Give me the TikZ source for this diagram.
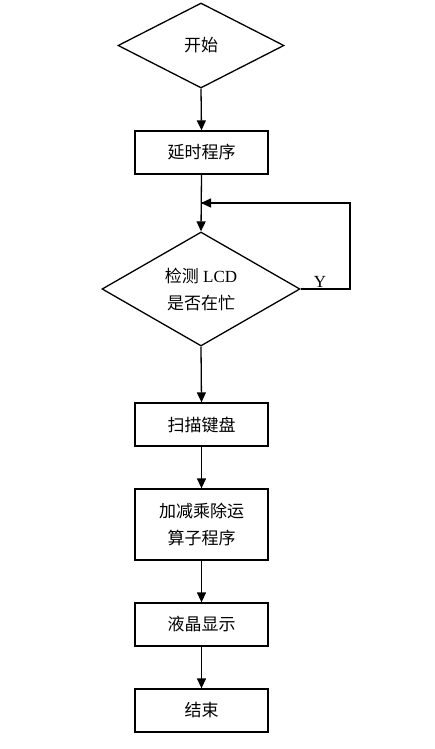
\documentclass[tikz,border=0pt]{standalone}
\usepackage{fontspec}
\setmainfont{Liberation Serif}
\newfontfamily\cjk{Noto Sans CJK SC}
\usetikzlibrary{shapes.geometric,arrows.meta}
\begin{document}
\begin{tikzpicture}[x=1pt,y=-1pt,
  every node/.style={font=\fontsize{17}{27}\selectfont},
  dia/.style={draw,line width=1.3pt,diamond,aspect=1.95,inner sep=0pt,align=center},
  bx/.style={draw,line width=1.3pt,minimum width=133pt,inner sep=0pt,align=center},
  ln/.style={line width=1.3pt},
  arr/.style={ln,-{Triangle[length=10pt,width=9pt]}}]
\useasboundingbox (0,0) rectangle (434,749);
\node[dia,minimum width=166pt,minimum height=85pt] (start) at (201,45.5) {\cjk 开始};
\node[bx,minimum height=43pt] (delay) at (201.5,152.5) {\cjk 延时程序};
\node[dia,minimum width=198pt,minimum height=114pt,aspect=1.74] (check) at (201,289) {{\cjk 检测} LCD\\{\cjk 是否在忙}};
\node[bx,minimum height=43pt] (scan) at (201.5,424.5) {\cjk 扫描键盘};
\node[bx,minimum height=71pt] (calc) at (201.5,524.5) {{\cjk 加减乘除运}\\{\cjk 算子程序}};
\node[bx,minimum height=43pt] (lcd) at (201.5,624.5) {\cjk 液晶显示};
\node[bx,minimum height=43pt] (end) at (201.5,710.5) {\cjk 结束};
\coordinate (c1) at (350,289);
\coordinate (c2) at (350,203);
\coordinate (c3) at (201,203);
\draw[arr] (start.south) -- (delay.north);
\draw[arr] (delay.south) -- (check.north);
\draw[ln] (check.east) -- (c1) -- (c2) -- (c3);
\draw[arr] (c2) -- (c3);
\node (y) at (320,282) {Y};
\draw[arr] (check.south) -- (scan.north);
\draw[arr] (scan.south) -- (calc.north);
\draw[arr] (calc.south) -- (lcd.north);
\draw[arr] (lcd.south) -- (end.north);
\end{tikzpicture}
\end{document}
